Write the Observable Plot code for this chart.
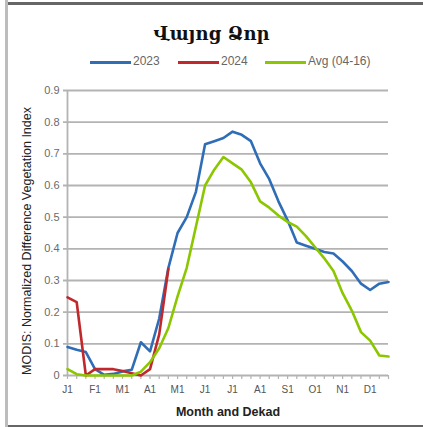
<!DOCTYPE html>
<html><head><meta charset="utf-8">
<script src="https://cdn.jsdelivr.net/npm/d3@7"></script>
<script src="https://cdn.jsdelivr.net/npm/@observablehq/plot@0.6"></script>
<style>
html,body{margin:0;padding:0;background:#fff;}
#wrap{position:relative;width:423px;height:427px;overflow:hidden;font-family:"Liberation Sans",Arial,sans-serif;}
#bl{position:absolute;left:5px;top:0;width:3px;height:427px;background:#bdbdbd;}
#bt{position:absolute;left:8px;top:2px;width:415px;height:3px;background:#666;}
#bb{position:absolute;left:8px;top:425px;width:415px;height:2px;background:#666;}
#title{position:absolute;left:0;width:423px;top:23px;text-align:center;font:bold 18px "DejaVu Serif",serif;color:#111;}
#legend{position:absolute;top:54px;left:0;width:423px;height:16px;font-size:12px;color:#666;}
.sw{position:absolute;top:7px;height:3px;width:41px;}
.lt{position:absolute;top:0;}
svg{position:absolute;left:0;top:0;}
</style></head>
<body>
<div id="wrap">
<div id="chart"></div>
<div id="bl"></div><div id="bt"></div><div id="bb"></div>
<div id="title">Վայոց Ձոր</div>
<div id="legend"></div>
</div>
<script>
const monthLabels = ["J1","F1","M1","A1","M1","J1","J1","A1","S1","O1","N1","D1"];
const yTicks = [0,0.1,0.2,0.3,0.4,0.5,0.6,0.7,0.8,0.9];
const seriesNames = ["2023","2024","Avg (04-16)"];
const seriesColors = ["#2f6db6","#c0282c","#8cc600"];
const v2023 = [0.090,0.081,0.074,0.020,0.002,0.005,0.013,0.018,0.105,0.076,0.18,0.34,0.45,0.50,0.58,0.73,0.74,0.75,0.77,0.76,0.74,0.67,0.62,0.55,0.49,0.42,0.41,0.40,0.39,0.385,0.36,0.33,0.29,0.27,0.29,0.295];
const v2024 = [0.247,0.232,0.0,0.02,0.02,0.02,0.014,0.007,0.0,0.02,0.13,0.337];
const vAvg = [0.020,0.004,0.0,0.0,0.0,0.0,0.0,0.0,0.012,0.042,0.086,0.15,0.25,0.34,0.47,0.60,0.65,0.69,0.67,0.65,0.61,0.55,0.53,0.505,0.485,0.47,0.44,0.405,0.37,0.33,0.26,0.205,0.137,0.11,0.063,0.06];

const toRows = (arr, name) => arr.map((v,i)=>({i, v, s:name}));
const rows = [...toRows(v2023,seriesNames[0]), ...toRows(v2024,seriesNames[1]), ...toRows(vAvg,seriesNames[2])];

const grid = "#b3b3b3";
const plot = Plot.plot({
  width: 423, height: 427,
  marginLeft: 67, marginRight: 35, marginTop: 90, marginBottom: 52,
  style: {fontFamily: "Liberation Sans, Arial, sans-serif", background: "transparent"},
  x: {type: "linear", domain: [0, 35]},
  y: {domain: [0, 0.9]},
  color: {domain: seriesNames, range: seriesColors},
  marks: [
    Plot.ruleY(yTicks.slice(1), {stroke: grid, strokeWidth: 1.8, insetLeft: -4}),
    Plot.ruleY([0], {stroke: grid, strokeWidth: 1.8, insetLeft: -4}),
    Plot.ruleX([0], {stroke: grid, strokeWidth: 1.8}),
    Plot.axisY({ticks: yTicks, tickSize: 0, tickPadding: 8, tickFormat: d => d === 0 ? "0" : d.toFixed(1), fontSize: 11, fill: "#6a6a6a", label: null}),
    Plot.axisX({ticks: d3.range(36), tickSize: 4, stroke: grid, strokeWidth: 1.2, tickPadding: 6, tickFormat: i => i % 3 === 0 ? monthLabels[i/3] : "", fontSize: 10, fill: "#555", label: null}),
    Plot.text(["MODIS: Normalized Difference Vegetation Index"], {frameAnchor: "left", textAnchor: "middle", lineAnchor: "middle", dx: -41, dy: 8, rotate: -90, fontSize: 12.5, fill: "#222"}),
    Plot.text(["Month and Dekad"], {frameAnchor: "bottom", textAnchor: "middle", dy: 40, fontSize: 12.5, fontWeight: "bold", fill: "#222"}),
    Plot.line(rows, {x: "i", y: "v", z: "s", stroke: "s", strokeWidth: 2.6, strokeLinejoin: "round"})
  ]
});
document.getElementById("chart").appendChild(plot);

const legend = document.getElementById("legend");
const swX = [90, 178, 265];
seriesNames.forEach((n, k) => {
  const sw = document.createElement("div");
  sw.className = "sw"; sw.style.left = swX[k] + "px"; sw.style.background = seriesColors[k];
  legend.appendChild(sw);
  const t = document.createElement("div");
  t.className = "lt"; t.style.left = (swX[k] + 43) + "px"; t.textContent = n;
  legend.appendChild(t);
});
</script>
</body></html>
